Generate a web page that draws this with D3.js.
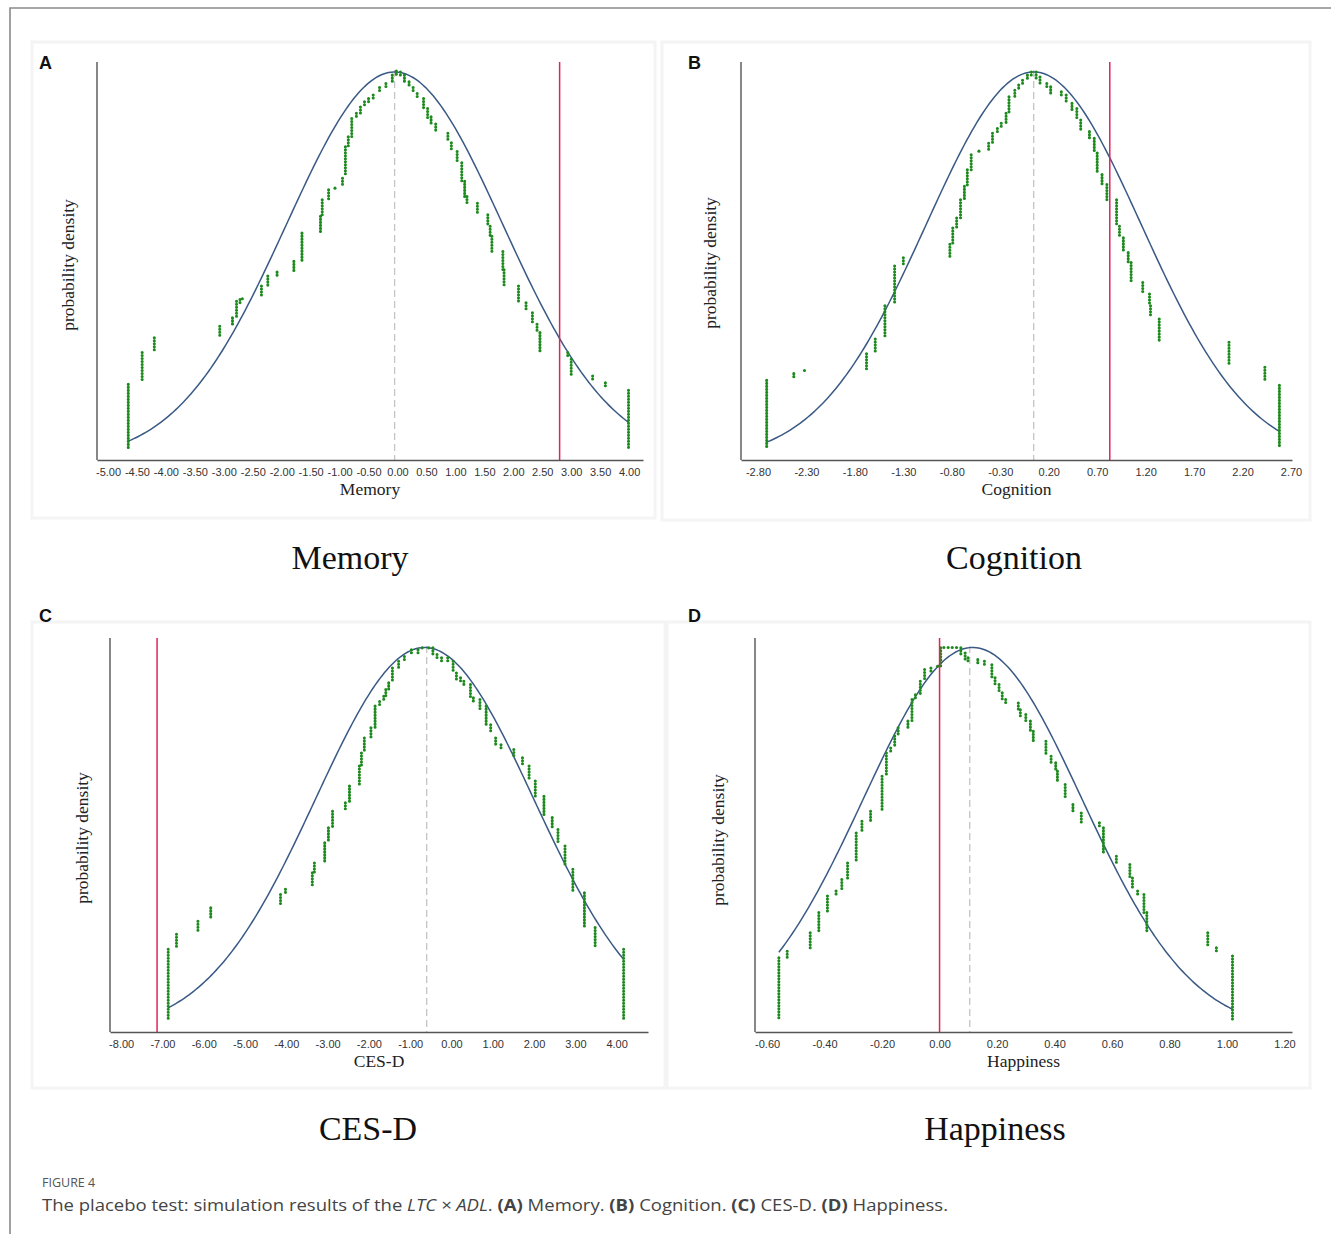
<!DOCTYPE html>
<html><head><meta charset="utf-8">
<script src="https://cdn.jsdelivr.net/npm/d3@7"></script>
<style>body{margin:0;background:#fff}</style>
</head><body>
<svg id="fig" width="1331" height="1234" xmlns="http://www.w3.org/2000/svg"></svg>
<script>
// ---------------- DATA ----------------
const panelLetters = ["A", "B", "C", "D"];
const xTitles = ["Memory", "Cognition", "CES-D", "Happiness"];
const subTitles = ["Memory", "Cognition", "CES-D", "Happiness"];
const yTitle = "probability density";

const ticksA = [-5.0, -4.5, -4.0, -3.5, -3.0, -2.5, -2.0, -1.5, -1.0, -0.5, 0.0, 0.5, 1.0, 1.5, 2.0, 2.5, 3.0, 3.5, 4.0];
const ticksB = [-2.8, -2.3, -1.8, -1.3, -0.8, -0.3, 0.2, 0.7, 1.2, 1.7, 2.2, 2.7];
const ticksC = [-8, -7, -6, -5, -4, -3, -2, -1, 0, 1, 2, 3, 4];
const ticksD = [-0.6, -0.4, -0.2, 0.0, 0.2, 0.4, 0.6, 0.8, 1.0, 1.2];

// actual estimated coefficient (red line) and mean of simulated coefficients (dashed line)
const trueEffect = [2.80, 0.83, -7.13, 0.00];
const simMean = [-0.05, 0.045, -0.60, 0.105];

// fitted normal density: mean, sd, plotted x-range, peak height (% of axis height)
const normMean = [-0.05, 0.045, -0.65, 0.115];
const normSd = [1.87, 1.11, 2.64, 0.38];
const normFrom = [-4.65, -2.71, -6.86, -0.559];
const normTo = [3.99, 2.58, 4.17, 1.019];
const normPeak = [97.5, 97.5, 97.6, 97.6];

// simulated coefficients: [value, density top, density bottom] (density as % of axis height)
const simA = [[-4.65,19.0,2.5],[-4.41,27.0,19.9],[-4.20,30.7,27.4],[-3.07,33.6,31.0],[-2.85,35.7,34.1],[-2.78,39.9,36.1],[-2.72,40.3,39.1],[-2.68,40.5,40.2],[-2.35,43.7,40.7],[-2.24,46.2,43.7],[-2.08,47.2,46.2],[-1.79,49.9,47.4],[-1.65,57.0,49.9],[-1.33,61.2,57.0],[-1.30,65.4,61.2],[-1.19,67.9,65.4],[-1.08,68.3,67.6],[-0.95,70.8,68.7],[-0.90,78.7,71.2],[-0.85,81.2,78.7],[-0.79,85.8,81.2],[-0.71,87.1,85.8],[-0.64,88.7,87.1],[-0.57,90.0,88.7],[-0.50,90.8,90.0],[-0.42,91.7,90.8],[-0.31,93.6,92.5],[-0.20,94.6,93.6],[-0.09,96.7,95.0],[-0.02,97.7,96.9],[0.05,97.5,96.2],[0.12,96.7,95.0],[0.20,95.0,93.6],[0.27,93.6,92.1],[0.34,92.1,90.8],[0.45,90.8,88.3],[0.52,88.3,85.4],[0.58,86.2,84.1],[0.66,84.4,82.5],[0.87,82.1,80.0],[0.93,79.7,77.5],[1.03,77.5,74.7],[1.11,74.7,70.0],[1.16,70.0,66.2],[1.20,66.2,64.5],[1.38,64.5,62.0],[1.56,61.6,58.7],[1.60,58.7,56.2],[1.63,56.2,52.4],[1.82,52.4,47.8],[1.84,47.8,43.7],[2.09,43.7,39.9],[2.22,39.5,37.4],[2.33,37.0,34.5],[2.41,34.1,32.0],[2.46,32.0,27.4],[2.94,27.0,25.7],[3.00,25.3,21.5],[3.37,21.1,19.9],[3.59,19.4,18.2],[3.99,17.5,2.5]];

const simB = [[-2.71,20.0,3.3],[-2.43,21.7,20.4],[-2.32,22.5,22.1],[-1.68,26.7,22.9],[-1.59,30.4,27.1],[-1.49,38.75,30.8],[-1.39,48.75,39.2],[-1.30,50.8,49.2],[-0.82,54.2,50.8],[-0.79,58.3,54.2],[-0.75,60.8,58.3],[-0.71,65.4,60.8],[-0.67,68.75,65.4],[-0.64,72.9,68.75],[-0.60,76.7,72.9],[-0.52,77.6,77.3],[-0.42,79.6,77.9],[-0.38,82.1,79.6],[-0.33,83.3,82.1],[-0.29,84.6,83.3],[-0.24,87.1,84.6],[-0.21,91.25,87.1],[-0.15,92.9,91.25],[-0.11,94.2,92.9],[-0.07,95.4,94.2],[-0.02,96.7,95.4],[0.02,97.5,96.7],[0.07,97.5,95.8],[0.11,96.25,94.6],[0.18,94.6,93.3],[0.22,93.75,92.1],[0.33,92.5,91.25],[0.38,91.7,89.6],[0.44,89.6,87.9],[0.49,88.3,85.4],[0.53,85.4,82.5],[0.62,82.5,80.4],[0.67,80.8,77.1],[0.70,77.1,72.1],[0.75,71.7,69.2],[0.80,69.2,65.4],[0.90,65.4,58.75],[0.93,58.75,55.8],[0.97,55.8,52.1],[1.02,52.1,49.6],[1.05,49.6,45.0],[1.17,44.6,41.7],[1.24,41.7,38.75],[1.25,38.75,35.8],[1.34,35.4,30.0],[2.06,29.6,23.75],[2.43,23.3,19.6],[2.58,18.75,3.3]];

const simC = [[-6.86,21.0,3.2],[-6.66,24.8,21.4],[-6.14,28.1,25.2],[-5.83,31.5,28.6],[-4.14,34.9,32.0],[-4.02,36.2,34.9],[-3.37,40.4,36.6],[-3.32,42.9,40.4],[-3.07,48.0,42.9],[-2.98,51.8,48.0],[-2.88,56.0,51.8],[-2.57,58.2,56.0],[-2.47,62.4,58.2],[-2.23,67.5,62.4],[-2.18,70.8,67.5],[-2.11,74.6,70.8],[-1.95,77.2,74.6],[-1.85,82.7,77.2],[-1.74,83.9,82.7],[-1.64,85.2,83.9],[-1.59,86.9,85.2],[-1.52,88.6,86.9],[-1.43,92.4,88.6],[-1.28,94.1,92.4],[-1.14,95.3,94.1],[-0.97,97.0,95.8],[-0.81,97.0,96.2],[-0.71,97.5,97.0],[-0.55,97.5,97.0],[-0.45,97.5,95.8],[-0.35,95.8,94.5],[-0.24,95.0,94.1],[-0.09,95.0,93.7],[0.04,94.1,91.1],[0.12,91.1,89.4],[0.22,89.9,88.6],[0.30,89.0,87.7],[0.46,88.2,84.4],[0.53,84.8,83.9],[0.69,84.4,81.8],[0.84,82.7,78.0],[0.95,78.0,75.9],[1.07,74.6,72.9],[1.20,72.9,71.7],[1.51,71.7,70.0],[1.72,69.6,67.5],[1.88,67.5,63.7],[2.03,63.7,59.8],[2.24,59.8,54.8],[2.44,54.4,51.4],[2.58,51.4,47.6],[2.75,47.2,42.1],[2.94,41.3,35.8],[3.22,35.3,26.9],[3.48,26.5,21.4],[4.17,21.0,3.2]];

const simD = [[-0.559,18.85,3.2],[-0.53,20.5,18.85],[-0.45,25.2,21.0],[-0.42,30.3,25.6],[-0.39,34.5,30.3],[-0.36,35.8,34.5],[-0.34,38.7,35.8],[-0.32,42.9,38.7],[-0.29,50.5,42.9],[-0.27,53.5,50.5],[-0.24,56.0,53.5],[-0.20,64.9,56.0],[-0.185,70.8,64.9],[-0.17,72.1,70.8],[-0.156,75.1,72.1],[-0.144,77.2,75.1],[-0.11,78.9,77.2],[-0.096,84.4,78.9],[-0.084,85.6,84.4],[-0.067,89.0,85.6],[-0.052,92.0,89.0],[-0.03,92.4,91.5],[-0.007,92.8,92.4],[0.004,97.5,92.8],[0.015,97.6,97.4],[0.03,97.6,97.4],[0.044,97.6,97.4],[0.059,97.6,97.4],[0.074,97.5,95.8],[0.089,96.2,94.5],[0.099,95.0,94.1],[0.133,94.5,93.7],[0.156,94.1,93.2],[0.182,93.2,89.9],[0.193,89.9,87.7],[0.207,88.2,86.1],[0.218,86.1,84.4],[0.23,84.4,83.5],[0.274,83.5,81.8],[0.281,81.8,80.1],[0.30,80.6,78.9],[0.316,78.9,76.3],[0.326,76.3,73.8],[0.37,73.8,70.0],[0.388,70.0,68.3],[0.404,68.3,66.2],[0.41,66.2,63.7],[0.437,62.8,59.0],[0.464,57.7,55.6],[0.493,55.6,53.1],[0.556,53.1,52.2],[0.57,51.8,45.1],[0.615,44.6,42.5],[0.662,42.5,39.1],[0.671,39.1,36.2],[0.689,35.8,34.5],[0.711,34.9,30.3],[0.721,30.3,25.6],[0.933,25.2,21.8],[0.963,21.4,20.1],[1.019,19.3,3.2]];

const allTicks = [ticksA, ticksB, ticksC, ticksD];
const allSims = [simA, simB, simC, simD];

// ---------------- LAYOUT ----------------
const layout = [
  {box:[32,42,655,518], x0:97, x1:643, yTop:62, yBot:460, dom:[-5.19,4.24], lab:[39,69], yt:[68,265], sub:[350,569]},
  {box:[662,42,1310,520], x0:741, x1:1292, yTop:62, yBot:460, dom:[-2.975,2.71], lab:[688,69], yt:[710,263], sub:[1014,569]},
  {box:[32,622,665,1088], x0:110, x1:648, yTop:638, yBot:1032, dom:[-8.27,4.76], lab:[39,622], yt:[82,838], sub:[368,1140]},
  {box:[667,622,1310,1088], x0:755, x1:1292, yTop:638, yBot:1032, dom:[-0.642,1.226], lab:[688,622], yt:[718,840], sub:[995,1140]}
];

const svg = d3.select("#fig");
svg.append("rect").attr("width",1331).attr("height",1234).attr("fill","#fff");
// outer frame
svg.append("path").attr("d","M10,1234V8H1331").attr("fill","none").attr("stroke","#8a8a8a").attr("stroke-width",1.6);

const serif = "'Liberation Serif','Times New Roman',serif";
const sans = "'Liberation Sans',Arial,sans-serif";
const green = "#1c8a1c";

layout.forEach((L, i) => {
  const g = svg.append("g");
  // panel background
  g.append("rect").attr("x",L.box[0]).attr("y",L.box[1]).attr("width",L.box[2]-L.box[0]).attr("height",L.box[3]-L.box[1])
    .attr("fill","#fff").attr("stroke","#f4f4f4").attr("stroke-width",3);

  const x = d3.scaleLinear().domain(L.dom).range([L.x0, L.x1]);
  const y = d3.scaleLinear().domain([0,100]).range([L.yBot, L.yTop]);

  // panel letter
  svg.append("text").attr("x",L.lab[0]).attr("y",L.lab[1]).text(panelLetters[i])
    .attr("font-family",sans).attr("font-weight","bold").attr("font-size",18).attr("fill","#111");

  // mean dashed line
  g.append("line").attr("x1",x(simMean[i])).attr("x2",x(simMean[i])).attr("y1",y(100)+8).attr("y2",y(0))
    .attr("stroke","#c4c4c4").attr("stroke-width",1.3).attr("stroke-dasharray","7,4");

  // normal curve
  const pts = d3.range(0, 201).map(k => {
    const v = normFrom[i] + (normTo[i]-normFrom[i]) * k / 200;
    const z = (v - normMean[i]) / normSd[i];
    return [v, normPeak[i] * Math.exp(-0.5*z*z)];
  });
  g.append("path").datum(pts).attr("d", d3.line().x(d=>x(d[0])).y(d=>y(d[1])))
    .attr("fill","none").attr("stroke","#3a5a85").attr("stroke-width",1.5);

  // simulated coefficient dots
  g.selectAll("path.sim").data(allSims[i]).join("path").attr("class","sim")
    .attr("d", d => {
      const y1 = y(d[1]), y2 = y(d[2]);
      return "M" + x(d[0]) + "," + y1 + "V" + (Math.abs(y2-y1) < 0.5 ? y1 + 0.01 : y2);
    })
    .attr("fill","none").attr("stroke",green).attr("stroke-width",3.1)
    .attr("stroke-linecap","round").attr("stroke-dasharray","0,3");

  // true effect red line
  g.append("line").attr("x1",x(trueEffect[i])).attr("x2",x(trueEffect[i])).attr("y1",L.yTop).attr("y2",L.yBot)
    .attr("stroke","#e0245a").attr("stroke-width",1.5);

  // axes
  const ax = g.append("g").attr("transform",`translate(0,${L.yBot})`)
    .call(d3.axisBottom(x).tickValues(allTicks[i]).tickSize(0).tickSizeOuter(0).tickPadding(8).tickFormat(d => d.toFixed(2)));
  ax.select(".domain").attr("stroke","#555").attr("stroke-width",1.4);
  ax.selectAll("text").attr("font-family",sans).attr("font-size",11).attr("fill","#333");
  g.append("line").attr("x1",L.x0).attr("x2",L.x0).attr("y1",L.yTop).attr("y2",L.yBot)
    .attr("stroke","#555").attr("stroke-width",1.4);

  // axis titles
  g.append("text").attr("x",(L.x0+L.x1)/2).attr("y",L.yBot+35).attr("text-anchor","middle")
    .attr("font-family",serif).attr("font-size",17.5).attr("fill","#222").text(xTitles[i]);
  g.append("text").attr("transform",`translate(${L.yt[0]},${L.yt[1]}) rotate(-90)`).attr("text-anchor","middle")
    .attr("dy","0.35em").attr("font-family",serif).attr("font-size",17.5).attr("fill","#222").text(yTitle);

  // subtitle under panel
  svg.append("text").attr("x",L.sub[0]).attr("y",L.sub[1]).attr("text-anchor","middle")
    .attr("font-family",serif).attr("font-size",34).attr("fill","#111").text(subTitles[i]);
});

// caption
const capFont = "'Open Sans','Noto Sans',sans-serif";
svg.append("text").attr("x",42).attr("y",1187).attr("font-family",capFont).attr("font-size",12.5)
  .attr("fill","#555").text("FIGURE 4");
const cap = svg.append("text").attr("x",42).attr("y",1211).attr("font-family",capFont).attr("font-size",16.5).attr("fill","#444");
const capParts = [
  ["The placebo test: simulation results of the ", "normal"],
  ["LTC × ADL", "italic"],
  [". ", "normal"], ["(A)", "bold"], [" Memory. ", "normal"], ["(B)", "bold"], [" Cognition. ", "normal"],
  ["(C)", "bold"], [" CES-D. ", "normal"], ["(D)", "bold"], [" Happiness.", "normal"]
];
capParts.forEach(p => {
  const t = cap.append("tspan").text(p[0]);
  if (p[1] === "italic") t.attr("font-style","italic");
  if (p[1] === "bold") t.attr("font-weight","bold");
});
cap.attr("textLength", 906).attr("lengthAdjust","spacingAndGlyphs");
</script>
</body></html>
